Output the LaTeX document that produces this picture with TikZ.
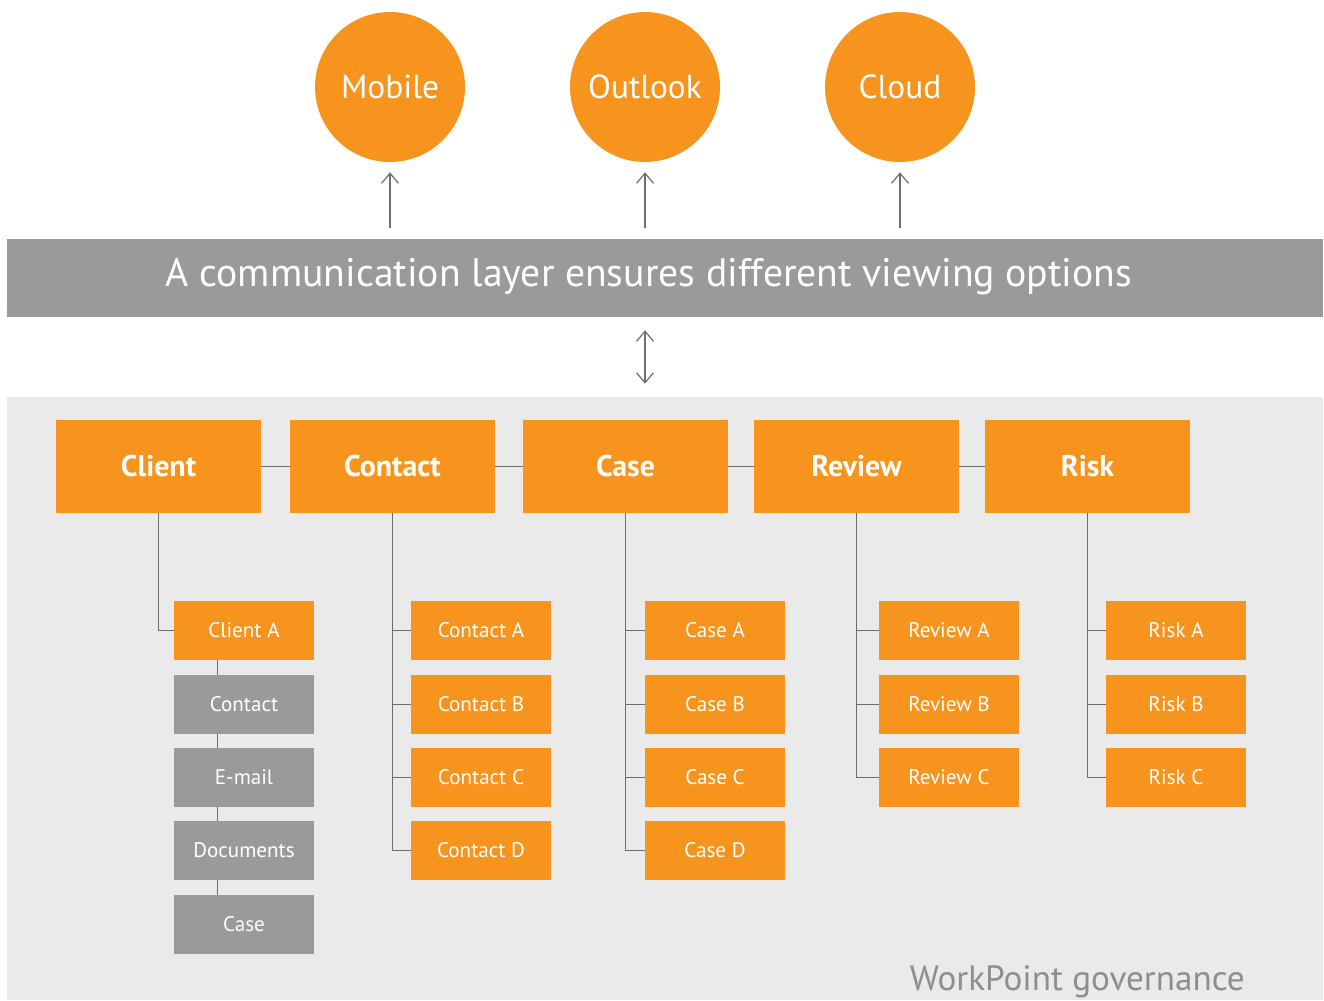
\documentclass[tikz,border=0pt]{standalone}
\usepackage{fontspec}
\setmainfont{PT Sans}
\usetikzlibrary{arrows.meta}
\definecolor{wporange}{HTML}{F7941E}
\definecolor{wpgray}{HTML}{9B999A}
\definecolor{wpback}{HTML}{EAEAEA}
\definecolor{wpline}{HTML}{6E6E6E}
\definecolor{wptext}{HTML}{8E8E8E}
\tikzset{
  barb/.tip={Straight Barb[length=2mm,width=3.4mm,line width=0.7pt]},
  link/.style={draw=wpline,line width=0.7pt},
  bubble/.style={circle,fill=wporange,minimum size=3cm,inner sep=0pt,text=white,
    font=\fontsize{19}{22}\selectfont},
  mainbox/.style={fill=wporange,minimum width=4.1cm,minimum height=1.86cm,text=white,
    font=\bfseries\fontsize{17}{20}\selectfont},
  subbox/.style={fill=wporange,minimum width=2.8cm,minimum height=1.18cm,text=white,
    font=\fontsize{12}{15}\selectfont},
  itembox/.style={subbox,fill=wpgray}
}
\begin{document}
\begin{tikzpicture}[x=0.02cm,y=-0.02cm]
  \useasboundingbox (0,0) rectangle (1324,1000);
  % Draw the backgrounds
  \node[fill=wpgray,minimum width=26.32cm,minimum height=1.56cm] (layer) at (665,278) {};
  \node[fill=wpback,minimum width=26.32cm,minimum height=12.06cm] (gov) at (665,698.5) {};
  \node[text=white,font=\fontsize{22.6}{26}\selectfont] (layertext) at (649,277)
    {A communication layer ensures different viewing options};
  \node[anchor=base east,inner sep=0pt,text=wptext,font=\fontsize{20}{24}\selectfont] (govtext) at (1245,990)
    {WorkPoint governance};
  % Draw the viewing options
  \node[bubble] (mobile) at (390,87) {Mobile};
  \node[bubble] (outlook) at (645,87) {Outlook};
  \node[bubble] (cloud) at (900,87) {Cloud};
  \foreach \v in {mobile,outlook,cloud}
    \draw[link,-barb] ([yshift=0.22cm]layer.north -| \v.south) -- ([yshift=-0.2cm]\v.south);
  \draw[link,barb-barb] ([yshift=-0.26cm]layer.south -| outlook) -- ([yshift=0.26cm]gov.north -| outlook);
  % Draw the main entities
  \node[mainbox] (client) at (158.5,466.5) {Client};
  \node[mainbox] (contact) at (392.5,466.5) {Contact};
  \node[mainbox] (case) at (625.5,466.5) {Case};
  \node[mainbox] (review) at (856.5,466.5) {Review};
  \node[mainbox] (risk) at (1087.5,466.5) {Risk};
  \draw[link] (client.east) -- (contact.west);
  \draw[link] (contact.east) -- (case.west);
  \draw[link] (case.east) -- (review.west);
  \draw[link] (review.east) -- (risk.west);
  % Draw the client column
  \node[subbox] (clientA) at (244,630.5) {Client A};
  \node[itembox] (ccontact) at (244,704.5) {Contact};
  \node[itembox] (cmail) at (244,777.5) {E-mail};
  \node[itembox] (cdocs) at (244,850.5) {Documents};
  \node[itembox] (ccase) at (244,924.5) {Case};
  \draw[link] (client.south) |- (clientA.west);
  \draw[link] ([xshift=0.88cm]clientA.south west) -- ([xshift=0.88cm]ccontact.north west);
  \draw[link] ([xshift=0.88cm]ccontact.south west) -- ([xshift=0.88cm]cmail.north west);
  \draw[link] ([xshift=0.88cm]cmail.south west) -- ([xshift=0.88cm]cdocs.north west);
  \draw[link] ([xshift=0.88cm]cdocs.south west) -- ([xshift=0.88cm]ccase.north west);
  % Draw the contact column
  \node[subbox] (contactA) at (481,630.5) {Contact A};
  \node[subbox] (contactB) at (481,704.5) {Contact B};
  \node[subbox] (contactC) at (481,777.5) {Contact C};
  \node[subbox] (contactD) at (481,850.5) {Contact D};
  \draw[link] (contact.south) |- (contactD.west);
  \foreach \n in {contactA,contactB,contactC}
    \draw[link] (contact.south |- \n.west) -- (\n.west);
  % Draw the case column
  \node[subbox] (caseA) at (715,630.5) {Case A};
  \node[subbox] (caseB) at (715,704.5) {Case B};
  \node[subbox] (caseC) at (715,777.5) {Case C};
  \node[subbox] (caseD) at (715,850.5) {Case D};
  \draw[link] (case.south) |- (caseD.west);
  \foreach \n in {caseA,caseB,caseC}
    \draw[link] (case.south |- \n.west) -- (\n.west);
  % Draw the review column
  \node[subbox] (reviewA) at (949,630.5) {Review A};
  \node[subbox] (reviewB) at (949,704.5) {Review B};
  \node[subbox] (reviewC) at (949,777.5) {Review C};
  \draw[link] (review.south) |- (reviewC.west);
  \foreach \n in {reviewA,reviewB}
    \draw[link] (review.south |- \n.west) -- (\n.west);
  % Draw the risk column
  \node[subbox] (riskA) at (1176,630.5) {Risk A};
  \node[subbox] (riskB) at (1176,704.5) {Risk B};
  \node[subbox] (riskC) at (1176,777.5) {Risk C};
  \draw[link] (risk.south) |- (riskC.west);
  \foreach \n in {riskA,riskB}
    \draw[link] (risk.south |- \n.west) -- (\n.west);
\end{tikzpicture}
\end{document}
